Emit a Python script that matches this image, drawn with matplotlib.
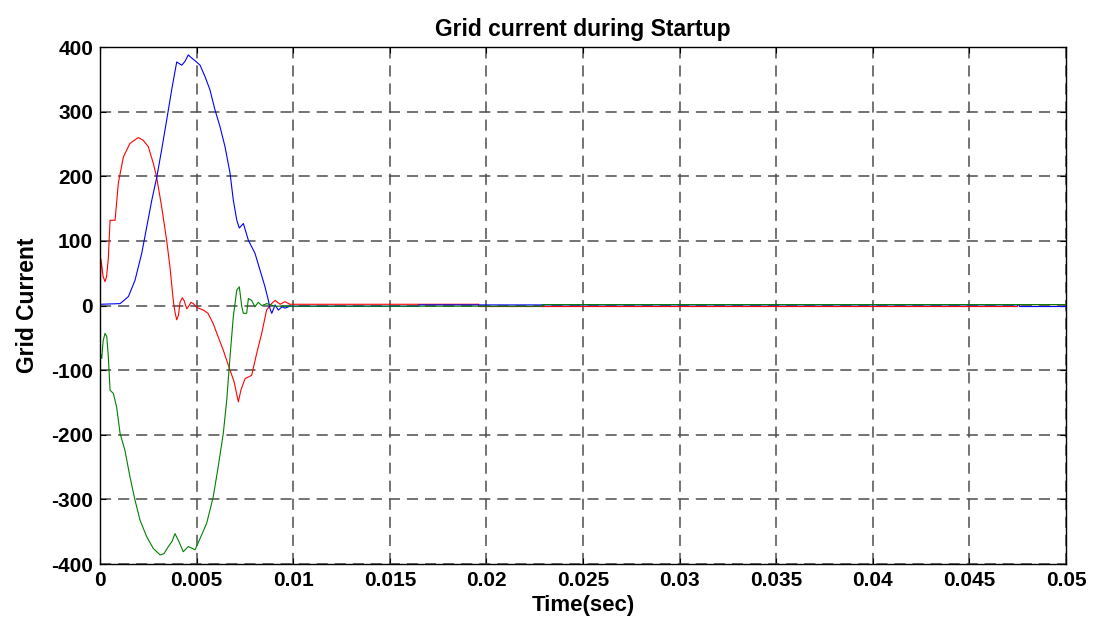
import numpy as np
import matplotlib
matplotlib.use("Agg")
import matplotlib.pyplot as plt

# phase currents during startup; time in ms, current in A
t_a = [0, 0.05, 0.16, 0.26, 0.34, 0.43, 0.52, 0.78, 0.95, 1.21, 1.55, 1.98, 2.23,
       2.50, 2.76, 2.93, 3.19, 3.45, 3.62, 3.79, 3.88, 3.97, 4.06, 4.14, 4.26, 4.35,
       4.49, 4.61, 4.71, 4.83, 5.02, 5.35, 5.59, 5.86, 6.11, 6.38, 6.73, 6.94, 7.16,
       7.30, 7.51, 7.85, 8.11, 8.37, 8.62, 8.88, 9.06, 9.32, 9.58, 9.83,
       10.5, 19.6, 19.6, 47.5, 47.5, 50.0]
i_a = [0, 72, 45, 37, 45, 73, 132, 132, 190, 230, 251, 260, 256,
       246, 220, 199, 153, 101, 60, 8.5, -10, -22, -15, 5, 12, 8,
       -5, 0, 5, 3, -3, -7, -12, -28, -48, -69, -100, -118, -149,
       -130, -113, -108, -74, -43, -7, 3, 8, 2, 6, 2,
       2, 2, -1.5, -1.5, 1.5, 1.5]

t_b = [0, 1.04, 1.24, 1.47, 1.81, 2.16, 2.42, 2.68, 2.94, 3.19, 3.45, 3.71, 3.97,
       4.23, 4.40, 4.57, 4.71, 4.92, 5.18, 5.44, 5.69, 5.95, 6.21, 6.47, 6.73, 6.90,
       7.08, 7.21, 7.42, 7.68, 8.02, 8.28, 8.54, 8.71, 8.80, 8.89, 9.06, 9.23, 9.42,
       9.58, 9.83,
       16.5, 16.5, 47.6, 47.6, 50.0]
i_b = [2, 3, 8, 14, 39, 81, 122, 163, 199, 241, 287, 334, 377,
       372, 378, 388, 384, 379, 372, 354, 334, 303, 277, 246, 205, 163,
       132, 120, 127, 101, 81, 55, 29, 8.5, -5, -12, 1, -7, -2,
       -4, -1,
       -1, 1, 1, -1.5, -1.5]

t_c = [0, 0.02, 0.09, 0.16, 0.26, 0.35, 0.43, 0.52, 0.69, 0.86, 1.04, 1.29, 1.55,
       1.81, 2.07, 2.42, 2.76, 3.11, 3.31, 3.54, 3.73, 3.88, 4.05, 4.31, 4.57, 4.71,
       4.92, 5.26, 5.52, 5.86, 6.12, 6.38, 6.56, 6.73, 6.90, 7.08, 7.21, 7.34, 7.42,
       7.59, 7.68, 7.85, 8.02, 8.19, 8.37, 8.63, 9.06,
       22.9, 22.9, 50.0]
i_c = [0, -74, -82, -55, -43, -48, -79, -131, -136, -157, -198, -224, -265,
       -301, -332, -358, -376, -386, -384, -373, -365, -353, -363, -381, -373, -375,
       -378, -355, -337, -296, -249, -198, -146, -79, -17, 24, 29, -2, -12,
       -12, 11, 8, -2, 5, 0, 3, -1,
       -1, 1.5, 1.5]

x_ticks = np.arange(0, 0.0501, 0.005)
y_ticks = np.arange(-400, 401, 100)

plt.rcParams['font.family'] = ['Liberation Sans', 'DejaVu Sans']
plt.rcParams['font.weight'] = 'bold'
plt.rcParams['lines.scale_dashes'] = False
plt.rcParams['axes.unicode_minus'] = False

fig = plt.figure(figsize=(10.99, 6.25), dpi=100)
ax = fig.add_axes([0.091, 0.0976, 0.879, 0.827])

ax.plot(np.array(t_a) / 1000, i_a, color=(1, 0, 0), lw=0.8)
ax.plot(np.array(t_b) / 1000, i_b, color=(0, 0, 1), lw=0.8)
ax.plot(np.array(t_c) / 1000, i_c, color=(0, 0.5, 0), lw=0.8)

ax.set_xlim(0, 0.05)
ax.set_ylim(-400, 400)
ax.set_xticks(x_ticks)
ax.set_xticklabels(['%g' % round(v, 3) for v in x_ticks])
ax.set_yticks(y_ticks)
ax.set_yticklabels(['%d' % v for v in y_ticks])
ax.tick_params(direction='in', top=True, right=True, length=4, width=0.8,
               labelsize=15, pad=5)
for lab in ax.get_xticklabels() + ax.get_yticklabels():
    lab.set_fontweight('bold')

ax.grid(True, color='0.3', linestyle=(0, (8, 5)), linewidth=1.1)
for sp in ax.spines.values():
    sp.set_linewidth(1.0)

ax.set_title('Grid current during Startup', fontsize=16.5, fontweight='bold', pad=8)
ax.set_xlabel('Time(sec)', fontsize=16, fontweight='bold', labelpad=4)
ax.set_ylabel('Grid Current', fontsize=16.5, fontweight='bold', labelpad=9)

fig.savefig('out.png', dpi=100)
